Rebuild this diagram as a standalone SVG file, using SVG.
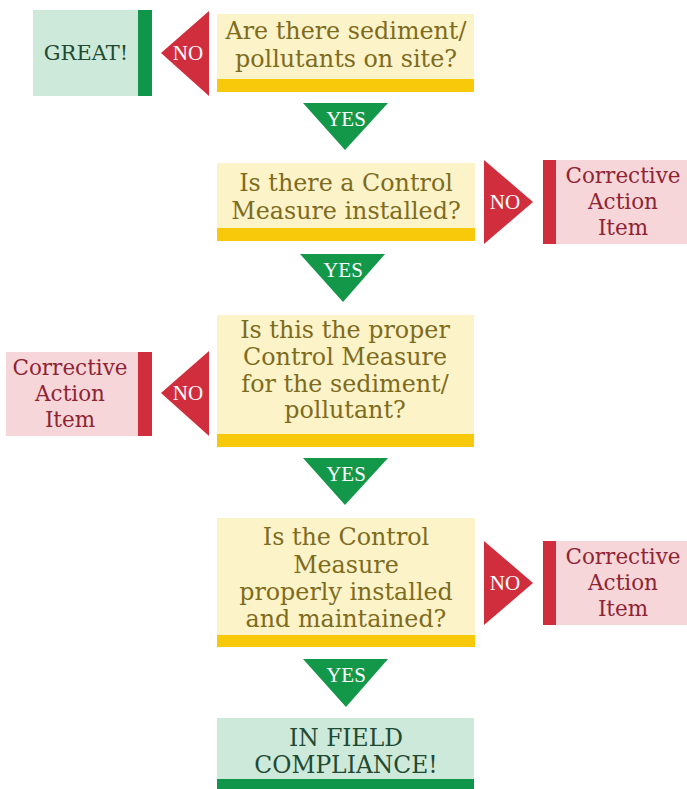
<svg xmlns="http://www.w3.org/2000/svg" width="687" height="789" viewBox="0 0 687 789">
<style>
.q{fill:#FDF3C9}
.qbar{fill:#F8C80A}
.qt{font-family:"DejaVu Serif",serif;font-size:23.8px;fill:#7D6C1E;text-anchor:middle}
.cbox{fill:#F6D6D9}
.cbar{fill:#D12E3D}
.ct{font-family:"DejaVu Serif",serif;font-size:21.5px;fill:#8E2434;text-anchor:middle}
.gbox{fill:#CDE9D9}
.gbar{fill:#10964A}
.gt{font-family:"DejaVu Serif",serif;font-size:21px;fill:#1F4A33;text-anchor:middle}
.gt2{font-family:"DejaVu Serif",serif;font-size:23.4px;fill:#1F4A33;text-anchor:middle}
.no{fill:#D12E3D}
.yes{fill:#13984A}
.lab{font-family:"Liberation Serif",serif;font-size:21px;fill:#FFFFFF;text-anchor:middle}
</style>
<rect width="687" height="789" fill="#FFFFFF"/>

<g id="q1">
<rect class="q" x="217" y="14" width="257" height="78"/>
<rect class="qbar" x="217" y="79" width="257" height="13"/>
<text class="qt" x="346" y="39">Are there sediment/</text>
<text class="qt" x="346" y="67">pollutants on site?</text>
</g>

<g id="great">
<rect class="gbox" x="33" y="10" width="119" height="86"/>
<rect class="gbar" x="138" y="10" width="14" height="86"/>
<text class="gt" x="86" y="60">GREAT!</text>
</g>

<g id="q2">
<rect class="q" x="217" y="163" width="258" height="78"/>
<rect class="qbar" x="217" y="228" width="258" height="13"/>
<text class="qt" x="346" y="191">Is there a Control</text>
<text class="qt" x="346" y="219">Measure installed?</text>
</g>

<g id="ca1">
<rect class="cbox" x="543" y="160" width="144" height="84"/>
<rect class="cbar" x="543" y="160" width="13" height="84"/>
<text class="ct" x="623" y="183">Corrective</text>
<text class="ct" x="623" y="209">Action</text>
<text class="ct" x="623" y="235">Item</text>
</g>

<g id="q3">
<rect class="q" x="217" y="315" width="257" height="132"/>
<rect class="qbar" x="217" y="434" width="257" height="13"/>
<text class="qt" x="345" y="338">Is this the proper</text>
<text class="qt" x="345" y="365">Control Measure</text>
<text class="qt" x="345" y="392">for the sediment/</text>
<text class="qt" x="345" y="418">pollutant?</text>
</g>

<g id="ca2">
<rect class="cbox" x="6" y="352" width="146" height="84"/>
<rect class="cbar" x="138" y="352" width="14" height="84"/>
<text class="ct" x="70" y="375">Corrective</text>
<text class="ct" x="70" y="401">Action</text>
<text class="ct" x="70" y="427">Item</text>
</g>

<g id="q4">
<rect class="q" x="217" y="518" width="258" height="129"/>
<rect class="qbar" x="217" y="635" width="258" height="12"/>
<text class="qt" x="346" y="545">Is the Control</text>
<text class="qt" x="346" y="573">Measure</text>
<text class="qt" x="346" y="600">properly installed</text>
<text class="qt" x="346" y="627">and maintained?</text>
</g>

<g id="ca3">
<rect class="cbox" x="543" y="541" width="144" height="84"/>
<rect class="cbar" x="543" y="541" width="13" height="84"/>
<text class="ct" x="623" y="564">Corrective</text>
<text class="ct" x="623" y="590">Action</text>
<text class="ct" x="623" y="616">Item</text>
</g>

<g id="done">
<rect class="gbox" x="217" y="718" width="257" height="71"/>
<rect class="gbar" x="217" y="779" width="257" height="10"/>
<text class="gt2" x="346" y="746">IN FIELD</text>
<text class="gt2" x="346" y="773">COMPLIANCE!</text>
</g>

<g id="connectors">
<polygon class="no" points="209,11 209,96 161,53"/>
<text class="lab" x="188" y="60">NO</text>
<polygon class="yes" points="303,103 388,103 345,150"/>
<text class="lab" x="346" y="126">YES</text>
<polygon class="no" points="484,160 484,244 533,202"/>
<text class="lab" x="505" y="209">NO</text>
<polygon class="yes" points="300,254 385,254 343,302"/>
<text class="lab" x="343" y="277">YES</text>
<polygon class="no" points="209,351 209,436 161,393"/>
<text class="lab" x="188" y="400">NO</text>
<polygon class="yes" points="303,458 388,458 345,505"/>
<text class="lab" x="346" y="481">YES</text>
<polygon class="no" points="484,541 484,625 533,583"/>
<text class="lab" x="505" y="590">NO</text>
<polygon class="yes" points="303,659 388,659 346,707"/>
<text class="lab" x="346" y="682">YES</text>
</g>
</svg>
